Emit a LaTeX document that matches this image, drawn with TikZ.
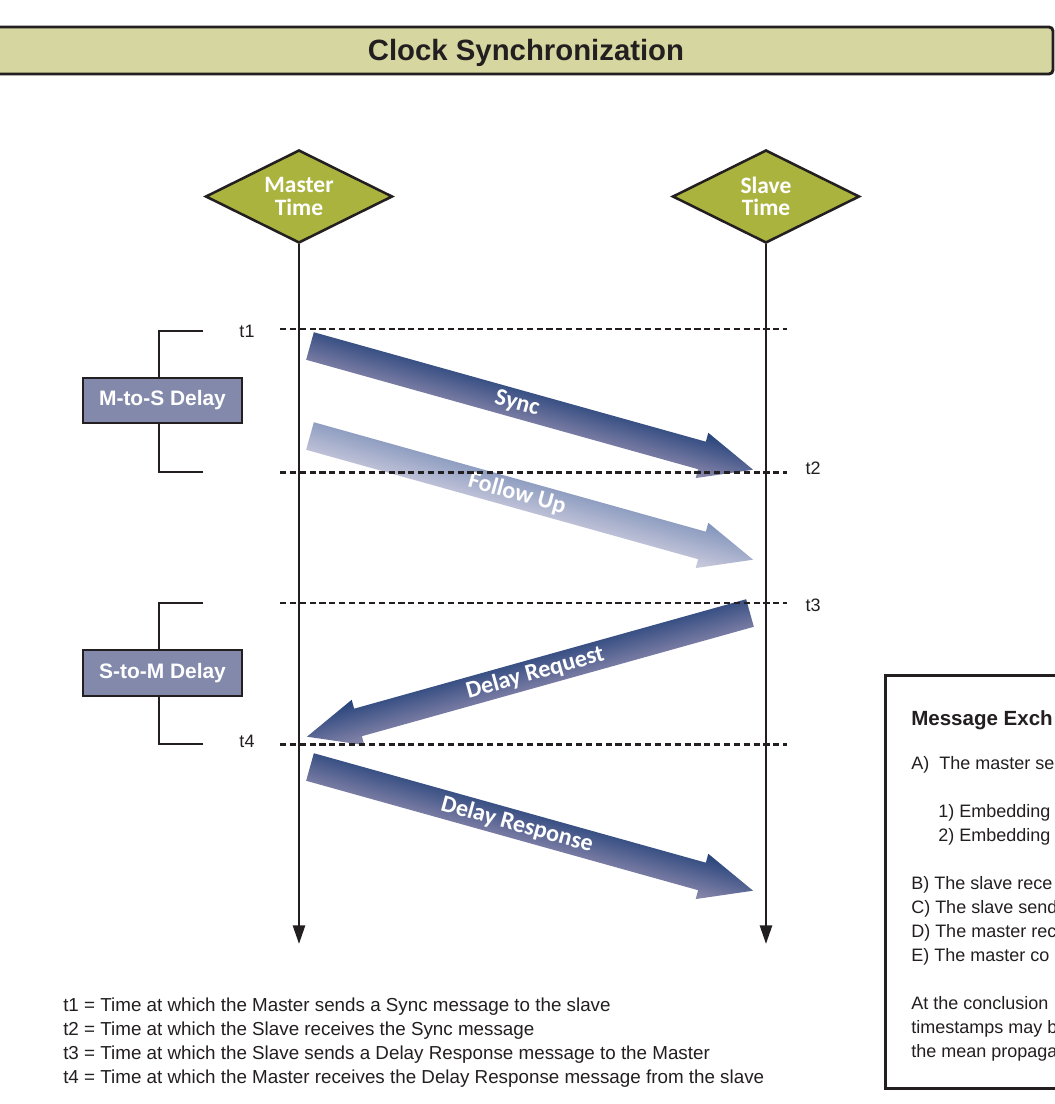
\documentclass[tikz,border=0pt]{standalone}
\usepackage{fontspec}
\setmainfont{Liberation Sans}
\newfontfamily\calibrifont{Carlito}
\usetikzlibrary{arrows.meta,shapes.geometric}

\definecolor{ink}{HTML}{231F20}
\definecolor{bandfill}{HTML}{D6D6A0}
\definecolor{olivefill}{HTML}{ABB33F}
\definecolor{slatefill}{HTML}{8389AB}
\definecolor{msgtop}{HTML}{24427A}
\definecolor{msgbottom}{HTML}{8E8AAD}
\definecolor{futop}{HTML}{8093BA}
\definecolor{fubottom}{HTML}{CDCCDE}

% one unit is one pixel of a 96 dpi drawing
\tikzset{
  px/.style={x=0.75pt,y=-0.75pt},
  clockdiamond/.style={diamond, aspect=2, draw=ink, line width=1.9pt, fill=olivefill,
    minimum width=140.25pt, minimum height=69.75pt, inner sep=0pt, text=white,
    align=center, font=\calibrifont\bfseries\fontsize{17.6}{16.8}\selectfont},
  timeline/.style={draw=ink, line width=2pt, -{Triangle[length=14pt,width=9pt]}},
  instant/.style={draw=ink, line width=2pt, dash pattern=on 4.6pt off 2.8pt},
  tlabel/.style={anchor=base, inner sep=0pt, text=ink, font=\fontsize{13.5}{16}\selectfont},
  delaybox/.style={draw=ink, line width=1.9pt, fill=slatefill, minimum width=119.25pt,
    minimum height=33.75pt, inner sep=0pt, text=white,
    font=\bfseries\fontsize{15.7}{18}\selectfont},
  bracket/.style={draw=ink, line width=1.1pt},
  msglabel/.style={inner sep=0pt, text=white,
    font=\calibrifont\bfseries\fontsize{18}{20}\selectfont},
  boxtext/.style={anchor=base west, inner sep=0pt, text=ink, font=\fontsize{13.5}{18}\selectfont},
  legend/.style={anchor=base west, inner sep=0pt, text=ink, font=\fontsize{14.1}{18}\selectfont},
}

% block arrow lying along +x from the origin (460 px long)
\newcommand\blockarrowpath[1]{%
  \shade[#1] (0,-14.3) -- (407,-14.3) -- (407,-23.5) -- (460,0)
    -- (407,23.5) -- (407,14.3) -- (0,14.3) -- cycle;}

\begin{document}
\begin{tikzpicture}[px]
\path[use as bounding box] (0,0) rectangle (1055,1104);
\clip (0,0) rectangle (1055,1104);
\fill[white] (0,0) rectangle (1055,1104);

% title band
\draw[draw=ink, line width=2.2pt, fill=bandfill, rounded corners=3pt] (-10,27) rectangle (1053,74);
\node[text=ink, font=\bfseries\fontsize{22}{24}\selectfont] (title) at (526,52.5) {Clock Synchronization};

% clocks
\node[clockdiamond] (master) at (299,196.5) {Master\\Time};
\node[clockdiamond] (slave) at (766,196.5) {Slave\\Time};
\coordinate (masterend) at (299,944);
\coordinate (slaveend) at (766,944);

% messages
\coordinate (syncsrc) at (310,346);
\coordinate (fusrc) at (310,436);
\coordinate (reqsrc) at (750,613);
\coordinate (respsrc) at (310,767);

\begin{scope}[transform canvas={shift={(syncsrc)},rotate=-15.6}]
  \blockarrowpath{top color=msgtop, bottom color=msgbottom}
  \node[msglabel] (synclbl) at (215,0) {Sync};
\end{scope}
\begin{scope}[transform canvas={shift={(fusrc)},rotate=-15.6}]
  \blockarrowpath{top color=futop, bottom color=fubottom}
  \node[msglabel] (fulbl) at (215,0) {Follow Up};
\end{scope}
\begin{scope}[transform canvas={shift={(reqsrc)},rotate=15.6}]
  \begin{scope}[xscale=-1]
    \blockarrowpath{top color=msgtop, bottom color=msgbottom}
  \end{scope}
  \node[msglabel] (reqlbl) at (-223,0) {Delay Request};
\end{scope}
\begin{scope}[transform canvas={shift={(respsrc)},rotate=-15.6}]
  \blockarrowpath{top color=msgtop, bottom color=msgbottom}
  \node[msglabel] (resplbl) at (215,0) {Delay Response};
\end{scope}

% time instants
\foreach \n/\y in {1/329,2/472.5,3/603,4/744.5}{
  \coordinate (iw\n) at (280,\y);
  \coordinate (ie\n) at (787,\y);
  \draw[instant] (iw\n) -- (ie\n);
}
\node[tlabel] (t1) at (247,337.5) {t1};
\node[tlabel] (t2) at (813,474.5) {t2};
\node[tlabel] (t3) at (813,611.5) {t3};
\node[tlabel] (t4) at (247,747.5) {t4};

% time axes
\draw[timeline] (master.south) -- (masterend);
\draw[timeline] (slave.south) -- (slaveend);

% delays
\coordinate (spine) at (159,0);
\node[delaybox] (mts) at (162.5,400.5) {M-to-S Delay};
\coordinate (mtstop) at (203,331);
\coordinate (mtsbot) at (203,472);
\draw[bracket] (mtstop) -| (mts.north -| spine);
\draw[bracket] (mtsbot) -| (mts.south -| spine);

\node[delaybox, minimum height=34.5pt] (stm) at (162.5,673) {S-to-M Delay};
\coordinate (stmtop) at (203,603);
\coordinate (stmbot) at (203,744);
\draw[bracket] (stmtop) -| (stm.north -| spine);
\draw[bracket] (stmbot) -| (stm.south -| spine);

% legend
\node[legend] (l1) at (63,1011.5) {t1 = Time at which the Master sends a Sync message to the slave};
\node[legend] (l2) at (63,1035.5) {t2 = Time at which the Slave receives the Sync message};
\node[legend] (l3) at (63,1059.5) {t3 = Time at which the Slave sends a Delay Response message to the Master};
\node[legend] (l4) at (63,1083.5) {t4 = Time at which the Master receives the Delay Response message from the slave};

% message exchange panel
\node[draw=ink, line width=1.9pt, anchor=north west, inner sep=0pt,
      minimum width=150pt, minimum height=309.75pt] (exchbox) at (884,674) {};
\node[boxtext, font=\bfseries\fontsize{15.4}{18}\selectfont] (eh) at (911,725.5) {Message Exch};
\node[boxtext] (ea) at (911,769.5) {A)\ \ The master sen};
\node[boxtext] (e1) at (938,817.5) {1) Embedding};
\node[boxtext] (e2) at (938,841.5) {2) Embedding};
\node[boxtext] (eb) at (911,889.5) {B) The slave rece};
\node[boxtext] (ec) at (911,913.5) {C) The slave send};
\node[boxtext] (ed) at (911,937.5) {D) The master rec};
\node[boxtext] (ee) at (911,961.5) {E) The master co};
\node[boxtext] (ef) at (911,1009.5) {At the conclusion};
\node[boxtext] (eg) at (911,1033.5) {timestamps may b};
\node[boxtext] (ei) at (911,1057.5) {the mean propaga};
\end{tikzpicture}
\end{document}
